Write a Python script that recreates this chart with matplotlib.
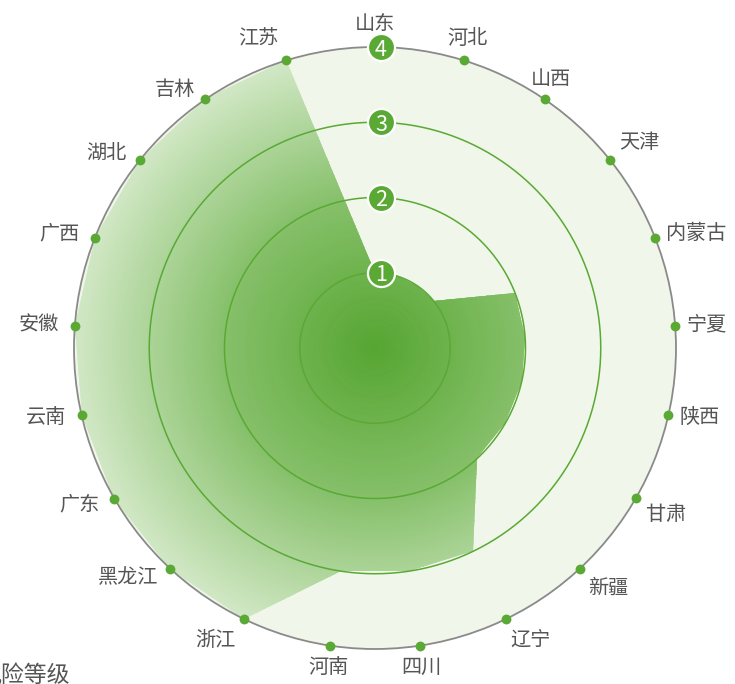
import numpy as np
import matplotlib
matplotlib.use('Agg')
import matplotlib.pyplot as plt
from matplotlib.colors import LinearSegmentedColormap
from matplotlib.transforms import offset_copy

plt.rcParams['font.family'] = ['Noto Sans CJK SC', 'DejaVu Sans']

# ---- data ----
provinces = ['山东', '河北', '山西', '天津', '内蒙古', '宁夏', '陕西', '甘肃', '新疆', '辽宁', '四川',
             '河南', '浙江', '黑龙江', '广东', '云南', '安徽', '广西', '湖北', '吉林', '江苏']
risk_level = [1, 1, 1, 1, 2, 2, 2, 2, 2, 3, 3, 3, 4, 4, 4, 4, 4, 4, 4, 4, 4]
level_ticks = [1, 2, 3, 4]
axis_name = '风险等级'

GREEN = '#5aa935'
TEXT = '#555555'

n = len(provinces)
theta = np.arange(n) * 2 * np.pi / n
rmax = max(level_ticks)

W, H = 735, 684
fig = plt.figure(figsize=(W / 100, H / 100), dpi=100)
fig.patch.set_facecolor('white')
cx, cy, R = 375, 348, 301
ax = fig.add_axes([(cx - R) / W, (H - cy - R) / H, 2 * R / W, 2 * R / H], projection='polar')
ax.set_theta_zero_location('N')
ax.set_theta_direction(-1)
ax.set_facecolor('#f0f6e9')
ax.spines['polar'].set_color('#8a8a8a')
ax.spines['polar'].set_linewidth(1.3)

# gradient fill clipped to the data polygon
tt = np.linspace(0, 2 * np.pi, 361)
rr = np.linspace(0, rmax, 81)
T, RR = np.meshgrid(tt, rr)
cmap = LinearSegmentedColormap.from_list('g', ['#57a632', '#86c06a', '#d2e8c6'])
mesh = ax.pcolormesh(T, RR, RR, cmap=cmap, shading='gouraud', vmin=0, vmax=rmax, zorder=1)
poly = ax.fill(np.append(theta, theta[0]), np.append(risk_level, risk_level[0]),
               facecolor='none', edgecolor='none', zorder=1)[0]
mesh.set_clip_path(poly)

# grid circles
for lv in level_ticks[:-1]:
    ax.plot(tt, np.full_like(tt, lv), color=GREEN, lw=1.1, zorder=3)

ax.set_ylim(0, rmax)
ax.set_xticks([])
ax.set_yticks([])
ax.grid(False)

# category dots and labels
ax.scatter(theta, np.full(n, rmax), s=50, color=GREEN, zorder=5, clip_on=False, linewidths=0)
for th, name in zip(theta, provinces):
    s, c = np.sin(th), np.cos(th)
    deg = np.degrees(th)
    if deg <= 40 or 160 <= deg <= 195:
        ha = 'center'
    elif deg < 160:
        ha = 'left'
    else:
        ha = 'right'
    if deg < 60 or deg > 335:
        va = 'bottom'
    elif 110 < deg < 215:
        va = 'top'
    else:
        va = 'center'
    off = 8.5
    dx = off * s - (3 if ha == 'right' else 0)
    ax.annotate(name, xy=(th, rmax), xytext=(dx, off * c), textcoords='offset points',
                ha=ha, va=va, fontsize=14.5, color=TEXT, annotation_clip=False)

# radius badges
tr = offset_copy(ax.transData, fig=fig, x=6, y=0, units='dots')
ax.scatter(np.zeros(len(level_ticks)), level_ticks, s=380, color=GREEN, edgecolors='white',
           linewidths=1.6, zorder=6, transform=tr, clip_on=False)
for lv in level_ticks:
    ax.text(0, lv, str(lv), transform=tr, ha='center', va='center_baseline', color='white',
            fontsize=15.5, zorder=7, clip_on=False)

fig.text(70 / W, 1 - 675 / H, axis_name, ha='right', va='center', fontsize=16.5, color=TEXT)

fig.savefig('out.png', dpi=100)
